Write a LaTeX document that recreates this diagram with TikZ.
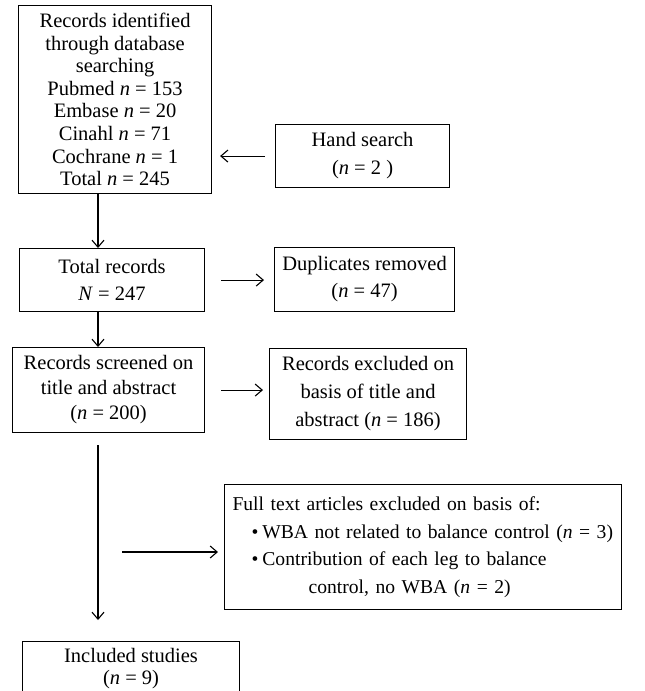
\documentclass[tikz,border=0pt]{standalone}
\usepackage{fontspec}
\setmainfont{Liberation Serif}
\usetikzlibrary{arrows.meta,calc}
\newcommand{\nn}{\textit{n}}
\begin{document}
\begin{tikzpicture}[x=1pt,y=-1pt,
  box/.style={draw, line width=1.1pt, anchor=north west, inner sep=0pt, align=center,
    font=\fontsize{20.5}{22.6}\selectfont},
  arr/.style={line width=1.1pt, -{Straight Barb[length=7pt,width=12pt,line width=1.1pt]}}]
\useasboundingbox (0,0) rectangle (645,691);
\clip (0,0) rectangle (645,691);
\node[box, minimum width=193pt, minimum height=188pt] (db) at (18,5)
  {Records identified\\through database\\searching\\Pubmed \nn{} = 153\\Embase \nn{} = 20\\Cinahl \nn{} = 71\\Cochrane \nn{} = 1\\Total \nn{} = 245};
\node[box, minimum width=174pt, minimum height=63pt, font=\fontsize{20.5}{28}\selectfont] (hand) at (275,124)
  {Hand search\\(\nn{} = 2 )};
\node[box, minimum width=185pt, minimum height=63pt, font=\fontsize{20.5}{27}\selectfont] (total) at (19,248)
  {Total records\\\textit{N} = 247};
\node[box, minimum width=180pt, minimum height=64pt, font=\fontsize{20.5}{27}\selectfont] (dup) at (274,247)
  {Duplicates removed\\(\nn{} = 47)};
\node[box, minimum width=192pt, minimum height=85pt, font=\fontsize{20.5}{25}\selectfont] (screen) at (12,347)
  {Records screened on\\title and abstract\\(\nn{} = 200)};
\node[box, minimum width=197pt, minimum height=91pt, font=\fontsize{20.5}{28}\selectfont] (excl) at (269,348)
  {Records excluded on\\basis of title and\\abstract (\nn{} = 186)};
\node[box, minimum width=397pt, minimum height=125pt, align=left, inner xsep=8pt, text width=381pt,
  font=\fontsize{19.6}{27.5}\selectfont] (full) at (224,484)
  {\mbox{Full text articles excluded on basis of:}\\
   \mbox{\hspace*{19pt}•\hspace*{4pt}WBA not related to balance control (\nn{} = 3)}\\
   \mbox{\hspace*{19pt}•\hspace*{4pt}Contribution of each leg to balance}\\
   \mbox{\hspace*{76pt}control, no WBA (\nn{} = 2)}};
\node[box, minimum width=217pt, minimum height=54pt, font=\fontsize{20.5}{22}\selectfont] (inc) at (22,641)
  {Included studies\\(\nn{} = 9)};
\coordinate (col) at (98,0);
\coordinate (fstart) at (122,552);
\draw[arr] (db.south -| col) -- (total.north -| col);
\draw[arr] (total.south -| col) -- (screen.north -| col);
\draw[arr, shorten <=12pt, shorten >=21pt] (screen.south -| col) -- (inc.north -| col);
\draw[arr, shorten <=10pt, shorten >=8pt] (hand.west) -- (hand.west -| db.east);
\draw[arr, shorten <=16pt, shorten >=10pt] (total.east) -- (total.east -| dup.west);
\draw[arr, shorten <=16pt, shorten >=6pt] (screen.east) -- (screen.east -| excl.west);
\draw[arr, shorten >=6pt] (fstart) -- (fstart -| full.west);
\end{tikzpicture}
\end{document}
